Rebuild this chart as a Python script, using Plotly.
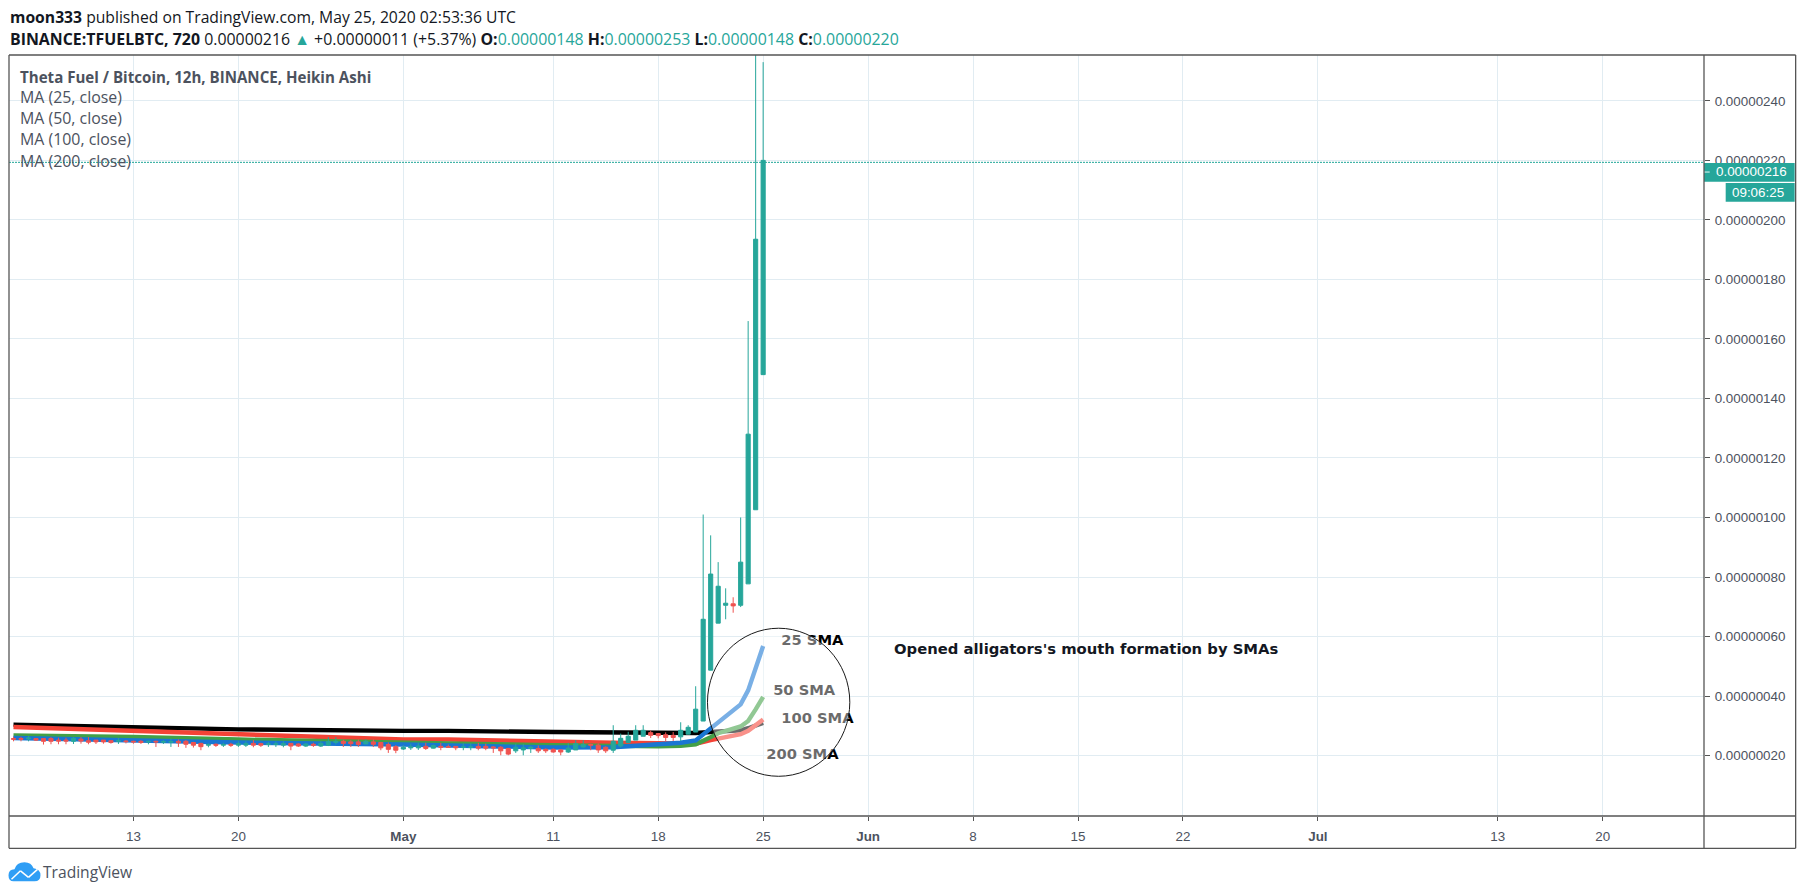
#!/usr/bin/env python3
# coding: utf-8
"""
TFUEL/BTC 12h heikin ashi, tradingview snapshot with the 4 SMAs
prices are kept in units of 0.00000001 BTC
"""
import pandas as pd
import plotly.graph_objects as go

dates = pd.date_range("2020-04-05", periods=101, freq="12h")

opens = [25.7, 25.7, 25.6, 25.7, 25.7, 25.7, 25.2, 25.2, 24.8, 25.5,
         25.0, 25.2, 25.2, 25.0, 24.8, 24.9, 24.8, 24.8, 24.6, 24.8,
         24.5, 24.5, 24.8, 24.8, 24.4, 24.1, 23.5, 23.8, 23.5, 23.8,
         23.5, 23.5, 24.1, 24.0, 23.7, 23.7, 23.5, 24.1, 23.9, 23.2,
         23.8, 23.2, 23.5, 24.4, 24.8, 24.6, 24.6, 23.9, 24.6, 24.4,
         23.7, 23.0, 22.2, 22.6, 22.6, 23.1, 22.5, 23.1, 23.0, 23.1,
         22.7, 22.7, 23.1, 23.1, 22.9, 22.8, 22.4, 21.6, 21.9, 22.4,
         22.4, 22.1, 22.1, 21.9, 21.2, 21.9, 22.9, 23.7, 23.5, 22.8,
         21.8, 23.2, 24.4, 25.2, 26.5, 27.7, 27.4, 27.0, 26.8, 26.3,
         27.2, 27.9, 31.6, 48.7, 64.5, 70.5, 71.0, 70.5, 77.7, 102.6,
         148.0]
highs = [26.3, 26.3, 26.6, 25.9, 25.9, 26.2, 26.0, 26.0, 26.2, 26.2,
         26.2, 25.2, 25.2, 25.2, 25.9, 25.2, 25.0, 25.2, 25.0, 25.0,
         25.2, 25.7, 25.4, 25.2, 24.6, 24.3, 24.1, 24.1, 24.3, 24.3,
         24.8, 24.8, 25.2, 24.3, 24.6, 24.7, 24.8, 24.1, 24.1, 24.1,
         24.3, 24.8, 26.2, 26.2, 25.3, 25.2, 25.4, 25.5, 25.5, 24.6,
         24.4, 23.5, 23.5, 24.0, 24.3, 24.3, 23.7, 24.3, 23.7, 23.1,
         24.1, 24.1, 24.3, 24.0, 23.2, 23.2, 22.6, 24.0, 23.8, 23.2,
         23.4, 22.4, 22.4, 22.1, 24.3, 25.2, 25.2, 24.0, 24.1, 23.1,
         30.2, 27.4, 28.0, 30.2, 30.2, 28.4, 27.6, 27.8, 27.9, 31.2,
         30.2, 43.3, 101.0, 94.0, 85.0, 76.2, 73.2, 100.0, 166.0, 262.0,
         253.0]
lows = [24.8, 24.8, 24.8, 24.9, 23.7, 23.8, 23.8, 23.8, 23.9, 24.0,
        23.8, 23.9, 24.0, 24.0, 23.9, 24.1, 24.0, 23.9, 23.8, 22.9,
        23.9, 22.9, 22.9, 22.6, 22.7, 21.8, 22.8, 22.9, 22.9, 22.9,
        22.9, 22.9, 22.8, 22.9, 22.9, 22.9, 22.8, 21.8, 22.9, 22.9,
        22.9, 22.9, 23.2, 23.7, 22.9, 22.9, 22.9, 23.9, 22.9, 21.8,
        20.9, 20.8, 21.9, 21.9, 21.9, 21.9, 22.4, 21.8, 22.7, 21.8,
        21.8, 21.8, 21.8, 21.8, 20.9, 20.1, 20.1, 20.9, 20.1, 20.9,
        20.9, 20.9, 21.0, 20.1, 20.9, 21.9, 22.7, 21.8, 20.9, 20.9,
        20.9, 22.7, 24.1, 25.2, 26.5, 25.9, 25.8, 24.8, 24.9, 24.9,
        27.2, 27.9, 31.6, 48.7, 64.5, 65.8, 68.0, 69.9, 77.7, 102.6,
        148.0]
closes = [25.5, 25.5, 25.9, 25.2, 24.8, 24.8, 24.9, 24.9, 25.8, 24.9,
          24.5, 24.6, 24.6, 24.4, 25.0, 24.7, 24.6, 24.4, 24.8, 24.6,
          24.7, 24.7, 24.3, 23.8, 23.5, 23.0, 23.7, 23.5, 23.7, 23.5,
          24.0, 24.0, 23.5, 23.5, 23.9, 23.9, 24.0, 23.2, 23.2, 23.9,
          23.5, 24.1, 24.7, 24.8, 24.1, 24.0, 23.7, 24.8, 23.8, 22.6,
          22.1, 21.8, 22.8, 22.9, 23.2, 22.4, 23.4, 22.8, 22.8, 22.6,
          22.9, 22.9, 22.5, 22.5, 22.6, 21.6, 20.5, 22.8, 22.6, 22.8,
          21.6, 21.6, 21.2, 21.2, 22.5, 24.0, 23.7, 23.5, 21.9, 21.6,
          24.8, 25.8, 26.5, 28.5, 28.5, 26.8, 26.7, 26.1, 26.1, 28.5,
          29.5, 35.6, 65.8, 81.0, 76.9, 71.2, 70.3, 85.0, 128.0, 193.5,
          220.0]

ma_dates = ["2020-04-05", "2020-04-13", "2020-04-20", "2020-05-01", "2020-05-04",
            "2020-05-11", "2020-05-15", "2020-05-18", "2020-05-19 12:00", "2020-05-20 12:00",
            "2020-05-21 12:00", "2020-05-22", "2020-05-23 12:00", "2020-05-24",
            "2020-05-24 12:00", "2020-05-25"]
ma25 = [25.9, 25.1, 24.4, 23.7, 23.5, 22.7, 22.8, 23.8, 24.3, 25.1,
        29.0, 31.3, 37.2, 41.9, 49.3, 56.8]
ma50 = [26.8, 26.3, 25.4, 24.6, 24.1, 23.5, 23.2, 23.1, 23.3, 23.8,
        26.2, 27.5, 29.8, 31.6, 35.5, 39.7]
ma100 = [29.6, 28.3, 27.4, 25.4, 25.4, 24.6, 24.3, 24.2, 24.0, 24.0,
         25.2, 25.7, 27.2, 28.3, 30.2, 32.1]
ma200 = [30.4, 29.4, 28.8, 28.3, 28.3, 27.9, 27.7, 27.5, 27.5, 27.6,
         27.9, 28.0, 28.5, 29.2, 30.0, 31.0]

y_ticks = [20, 40, 60, 80, 100, 120, 140, 160, 180, 200, 220, 240]
y_labels = ["0.00000020", "0.00000040", "0.00000060", "0.00000080", "0.00000100", "0.00000120",
            "0.00000140", "0.00000160", "0.00000180", "0.00000200", "0.00000220", "0.00000240"]
x_ticks = ["2020-04-13", "2020-04-20", "2020-05-01", "2020-05-11", "2020-05-18", "2020-05-25",
           "2020-06-01", "2020-06-08", "2020-06-15", "2020-06-22", "2020-07-01", "2020-07-13",
           "2020-07-20"]
x_labels = ["13", "20", "<b>May</b>", "11", "18", "25", "<b>Jun</b>", "8", "15", "22",
            "<b>Jul</b>", "13", "20"]

UP = "#26a69a"
DOWN = "#ef5350"
FRAME = "#555555"
TXT = "#4c525e"
GRID = "#e1ecf2"
SANS = "Liberation Sans"
HEAD = "Open Sans"

# plot area in page pixels
L, R, T, B = 8.5, 1704.3, 55, 815.7


def fx(px):
    return (px - L) / (R - L)


def fy(py):
    return (B - py) / (B - T)


def note(px, py, text, size=14, color=TXT, family=HEAD, anchor="left"):
    return dict(xref="paper", yref="paper", x=fx(px), y=fy(py), text=text, showarrow=False,
                xanchor=anchor, yanchor="middle", align="left", borderpad=0,
                font=dict(size=size, color=color, family=family))


def box(x0, y0, x1, y1, color):
    return dict(type="rect", xref="paper", yref="paper", x0=fx(x0), x1=fx(x1), y0=fy(y0), y1=fy(y1),
                fillcolor=color, line=dict(width=0), layer="above")


def seg(x0, y0, x1, y1, color, width=1.3, dash="solid"):
    return dict(type="line", xref="paper", yref="paper", x0=fx(x0), x1=fx(x1), y0=fy(y0), y1=fy(y1),
                line=dict(color=color, width=width, dash=dash), layer="above")


fig = go.Figure()

# black goes first, blue ends on top
for vals, col in [(ma200, "#000000"), (ma100, "#f44336"), (ma50, "#43a047"), (ma25, "#1976d2")]:
    fig.add_trace(go.Scatter(x=ma_dates, y=vals, mode="lines", zorder=-1,
                             line=dict(color=col, width=4.4)))

fig.add_trace(go.Candlestick(x=dates, open=opens, high=highs, low=lows, close=closes,
                             increasing=dict(line=dict(color=UP, width=1), fillcolor=UP),
                             decreasing=dict(line=dict(color=DOWN, width=1), fillcolor=DOWN),
                             whiskerwidth=0))

# scatter text and not annotations, the circle has to veil them
sma_x = ["2020-05-26 05:00", "2020-05-25 16:00", "2020-05-26 05:00", "2020-05-25 05:00"]
sma_y = [58.5, 41.7, 32.2, 20.1]
sma_txt = ["25 SMA", "50 SMA", "100 SMA", "200 SMA"]
fig.add_trace(go.Scatter(x=sma_x, y=sma_y, text=sma_txt, mode="text", textposition="middle right",
                         zorder=1, textfont=dict(family="DejaVu Sans", size=14.7, color="#000000", weight=700)))

cloud = [("M", 13, 881), ("Q", 8, 881, 8, 875), ("Q", 8, 869, 14, 869), ("Q", 16, 862, 24, 862),
         ("Q", 31, 862, 33, 868), ("Q", 40, 869, 40, 875), ("Q", 40, 881, 34, 881)]
cloud_path = ""
for c in cloud:
    pts = c[1:]
    cloud_path += c[0] + " " + " ".join(
        str(fx(pts[i]) if i % 2 == 0 else fy(pts[i])) for i in range(len(pts))) + " "
cloud_path += "Z"

shapes = [
    # last price line
    seg(L, 162.3, R, 162.3, "#1ea597", width=1, dash="2px,1px"),
    # the drawn circle, white veil inside
    dict(type="circle", xref="paper", yref="paper", x0=fx(707.3), x1=fx(849.7), y0=fy(776), y1=fy(628),
         fillcolor="rgba(255,255,255,0.42)", line=dict(color="#1a1a1a", width=1), layer="above"),
    # price and countdown boxes
    box(R, 163, 1795, 181.7, UP),
    box(1726, 183, 1795, 201.7, UP),
    seg(R, 172, 1710, 172, "#e8f6f4", width=1),
    # frame
    seg(L, T, 1796, T, FRAME),
    seg(L, T, L, 848, FRAME),
    seg(L, 848, 1796, 848, FRAME),
    seg(1796, T, 1796, 848, FRAME),
    seg(R, T, R, 848, FRAME),
    seg(L, B, 1796, B, FRAME),
    # logo
    dict(type="path", xref="paper", yref="paper", path=cloud_path, fillcolor="#2f9ef5",
         line=dict(width=0), layer="above"),
    seg(11, 879, 20, 870.5, "#ffffff", width=1.5),
    seg(20, 870.5, 28, 877, "#ffffff", width=1.5),
    seg(28, 877, 37, 869, "#ffffff", width=1.5),
]

annotations = [
    note(8, 17, "<b>moon333</b> published on TradingView.com, May 25, 2020 02:53:36 UTC", size=15.7, color="#131722"),
    note(8, 39, "<b>BINANCE:TFUELBTC, 720</b> 0.00000216 <span style='color:%s'>▲</span> +0.00000011 (+5.37%%) "
                "<b>O:</b><span style='color:%s'>0.00000148</span> <b>H:</b><span style='color:%s'>0.00000253</span> "
                "<b>L:</b><span style='color:%s'>0.00000148</span> <b>C:</b><span style='color:%s'>0.00000220</span>"
         % (UP, UP, UP, UP, UP), size=15.9, color="#131722"),
    note(19, 76.7, "<b>Theta Fuel / Bitcoin, 12h, BINANCE, Heikin Ashi</b>", size=15.1),
    note(19, 97, "MA (25, close)", size=15.9),
    note(19, 118, "MA (50, close)", size=15.9),
    note(19, 139, "MA (100, close)", size=15.9),
    note(19, 160.5, "MA (200, close)", size=15.9),
    note(893, 648, "<b>Opened alligators's mouth formation by SMAs</b>", size=14.8, color="#131722", family="DejaVu Sans"),
    note(1715, 171.5, "0.00000216", size=13.4, color="#ffffff", family=SANS),
    note(1731, 192, "09:06:25", size=13.4, color="#ffffff", family=SANS),
    note(42, 872, "TradingView", size=15.6, color=TXT),
]

fig.update_layout(
    width=1805, height=895,
    margin=dict(l=L, r=1805 - R, t=T, b=895 - B, pad=0),
    paper_bgcolor="#ffffff", plot_bgcolor="#ffffff",
    showlegend=False, boxgap=0.45, boxgroupgap=0,
    shapes=shapes, annotations=annotations,
    xaxis=dict(type="date", range=["2020-04-04 16:48", "2020-07-26 18:04"],
               tickmode="array", tickvals=x_ticks, ticktext=x_labels, rangeslider=dict(visible=False),
               showgrid=True, gridcolor=GRID, gridwidth=1, zeroline=False,
               ticks="outside", ticklen=4, tickcolor=FRAME, tickwidth=1, ticklabelstandoff=4,
               tickfont=dict(family=SANS, size=13.4, color=TXT)),
    yaxis=dict(side="right", range=[-0.3, 255.4],
               tickmode="array", tickvals=y_ticks, ticktext=y_labels,
               showgrid=True, gridcolor=GRID, gridwidth=1, zeroline=False,
               ticks="outside", ticklen=5, tickcolor=FRAME, tickwidth=1, ticklabelstandoff=2,
               tickfont=dict(family=SANS, size=13.4, color=TXT)),
)

fig.write_html("out.html", config=dict(displayModeBar=False),
               post_script="document.body.style.margin='0';")
